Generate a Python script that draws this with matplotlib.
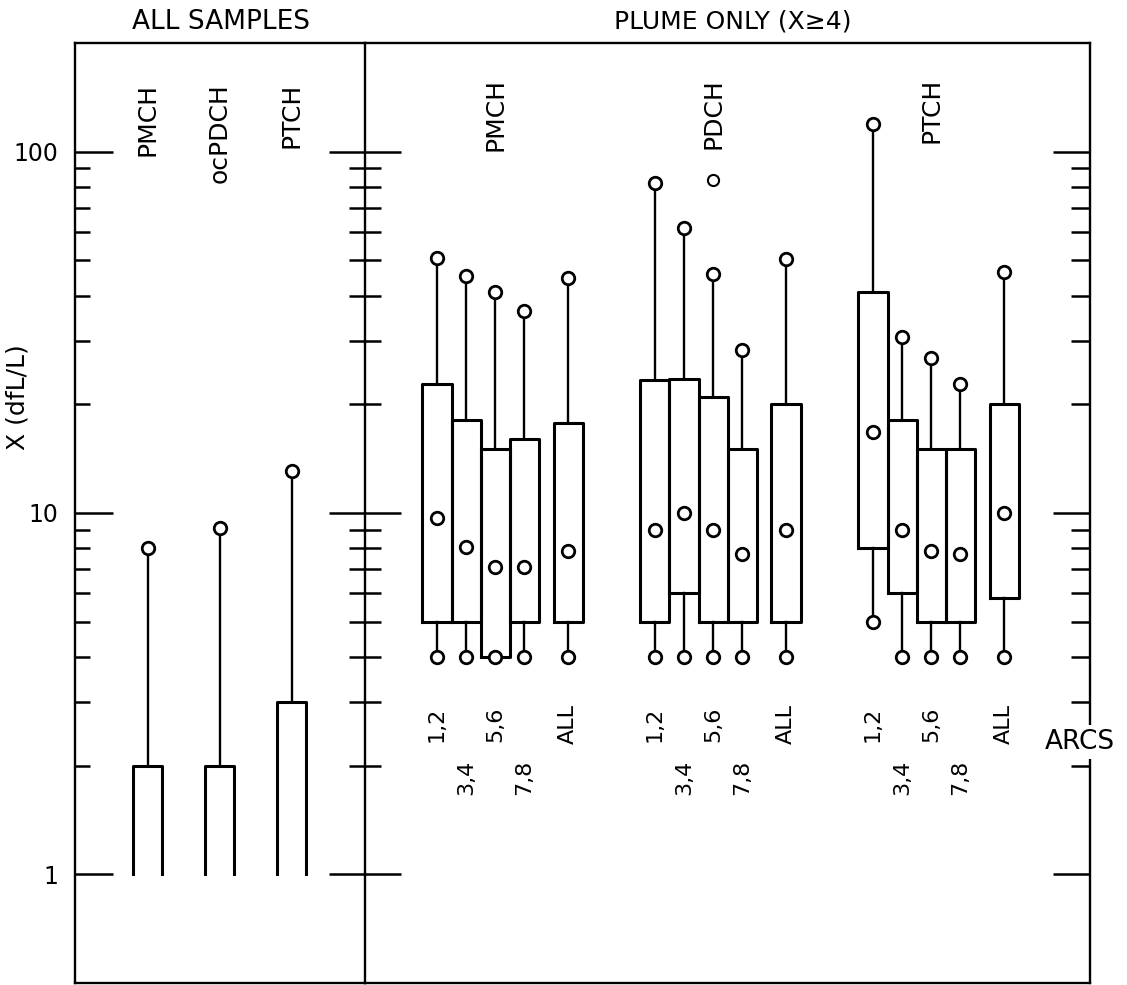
import matplotlib
matplotlib.use("Agg")
import matplotlib.pyplot as plt
from matplotlib.ticker import NullFormatter

plt.rcParams['font.family'] = ['DejaVu Sans']

# ALL SAMPLES panel: box from 1 up to q3, whisker up to max
all_names = ["PMCH", "ocPDCH", "PTCH"]
all_low = [1, 1, 1]
all_q3 = [2, 2, 3]
all_high = [8.0, 9.1, 13.1]

# PLUME ONLY panel, one row per tracer, one column per arc
tracers = ["PMCH", "PDCH", "PTCH"]
arcs = ["1,2", "3,4", "5,6", "7,8", "ALL"]
p_min = [[4, 4, 4, 4, 4], [4, 4, 4, 4, 4], [5, 4, 4, 4, 4]]
p_q1 = [[5, 5, 4, 5, 5], [5, 6, 5, 5, 5], [8, 6, 5, 5, 5.8]]
p_med = [[9.7, 8.05, 7.1, 7.1, 7.85], [9.0, 10.0, 9.0, 7.7, 9.0], [16.8, 9.0, 7.85, 7.7, 10.0]]
p_q3 = [[22.8, 18.1, 15, 16, 17.7], [23.3, 23.5, 20.9, 15, 20], [41, 18.1, 15, 15, 20]]
p_max = [[50.8, 45.4, 41, 36.3, 44.8], [82, 61.6, 45.9, 28.3, 50.6], [119, 30.8, 26.8, 22.8, 46.6]]
pdch_outlier = 83.6  # PDCH, arcs 5,6

# layout (x in box-width units)
all_x = [2.43, 4.83, 7.23]
grp_x = [12.07, 19.33, 26.6]
arc_off = [0, 0.97, 1.94, 2.91, 4.37]
W = 0.97
X_DIV = 9.67
X_END = 33.83
YLIM = (0.5, 200)
majors = [1, 10, 100]
minors = [2, 3, 4, 5, 6, 7, 8, 9, 20, 30, 40, 50, 60, 70, 80, 90]


def circ(ax, x, y, ms=9, mew=2):
    ax.plot(x, y, 'o', ms=ms, mfc='white', mec='k', mew=mew, zorder=4)


def draw_box(ax, x, lo, q1, med, q3, hi, closed=True):
    l, r = x - W / 2, x + W / 2
    if closed:
        ax.plot([l, r, r, l, l], [q1, q1, q3, q3, q1], 'k-', lw=2.2, zorder=3)
    else:
        ax.plot([l, l, r, r], [q1, q3, q3, q1], 'k-', lw=2.2, zorder=3)
    ax.plot([x, x], [q3, hi], 'k-', lw=1.7, zorder=2)
    circ(ax, x, hi)
    if lo is not None:
        ax.plot([x, x], [lo, q1], 'k-', lw=1.7, zorder=2)
        circ(ax, x, lo)
    if med is not None:
        circ(ax, x, med)


def log_ticks(ax):
    ax.set_yscale('log')
    ax.set_ylim(*YLIM)
    ax.set_yticks(majors)
    ax.set_yticks(minors, minor=True)
    ax.yaxis.set_minor_formatter(NullFormatter())
    ax.tick_params(axis='x', bottom=False, labelbottom=False)
    for s in ax.spines.values():
        s.set_linewidth(1.7)


fig = plt.figure(figsize=(11.27, 9.85), dpi=100)
ax1 = fig.add_axes([75 / 1127, 2 / 985, 290 / 1127, 940 / 985])
ax2 = fig.add_axes([365 / 1127, 2 / 985, 725 / 1127, 940 / 985])

# left panel
log_ticks(ax1)
ax1.set_xlim(0, X_DIV)
ax1.set_yticklabels(['1', '10', '100'])
ax1.spines['right'].set_visible(False)
ax1.tick_params(axis='y', which='major', direction='in', length=27, width=1.8,
                labelsize=17, pad=12, right=False)
ax1.tick_params(axis='y', which='minor', direction='in', length=11, width=1.8, right=False)
for i in range(len(all_names)):
    draw_box(ax1, all_x[i], None, all_low[i], None, all_q3[i], all_high[i], closed=False)
    ax1.text(all_x[i], 155, all_names[i], rotation=90, ha='center', va='top', fontsize=18)

# right panel
log_ticks(ax2)
ax2.set_xlim(X_DIV, X_END)
ax2.tick_params(axis='y', which='major', direction='inout', length=52, width=1.8,
                labelleft=False, right=False)
ax2.tick_params(axis='y', which='minor', direction='inout', length=23, width=1.8, right=False)
ax2.spines['right'].set_visible(False)

ax3 = ax2.twinx()
log_ticks(ax3)
ax3.tick_params(axis='y', which='major', direction='in', length=27, width=1.8, labelright=False)
ax3.tick_params(axis='y', which='minor', direction='in', length=14, width=1.8, labelright=False)
for s in ['left', 'top', 'bottom']:
    ax3.spines[s].set_visible(False)

for g in range(len(tracers)):
    for a in range(len(arcs)):
        x = grp_x[g] + arc_off[a]
        draw_box(ax2, x, p_min[g][a], p_q1[g][a], p_med[g][a], p_q3[g][a], p_max[g][a])
        ax2.text(x, 2.6 if a % 2 == 0 else 1.86, arcs[a], rotation=90,
                 ha='center', va='center', fontsize=16)
    ax2.text(grp_x[g] + arc_off[2], 160, tracers[g], rotation=90,
             ha='center', va='top', fontsize=18)

circ(ax2, grp_x[1] + arc_off[2], pdch_outlier, ms=8, mew=1.5)

ax3.text(33.5, 2.32, "ARCS", ha='center', va='center', fontsize=19, zorder=6,
         clip_on=False, bbox=dict(fc='white', ec='none', pad=3))

fig.text(221 / 1127, 1 - 22 / 985, "ALL SAMPLES", ha='center', va='center', fontsize=19)
fig.text(733 / 1127, 1 - 22 / 985, "PLUME ONLY (X≥4)", ha='center', va='center', fontsize=18)
fig.text(18 / 1127, 1 - 397 / 985, "X (dfL/L)", rotation=90, ha='center', va='center',
         fontsize=18)

fig.savefig("out.png", dpi=100)
